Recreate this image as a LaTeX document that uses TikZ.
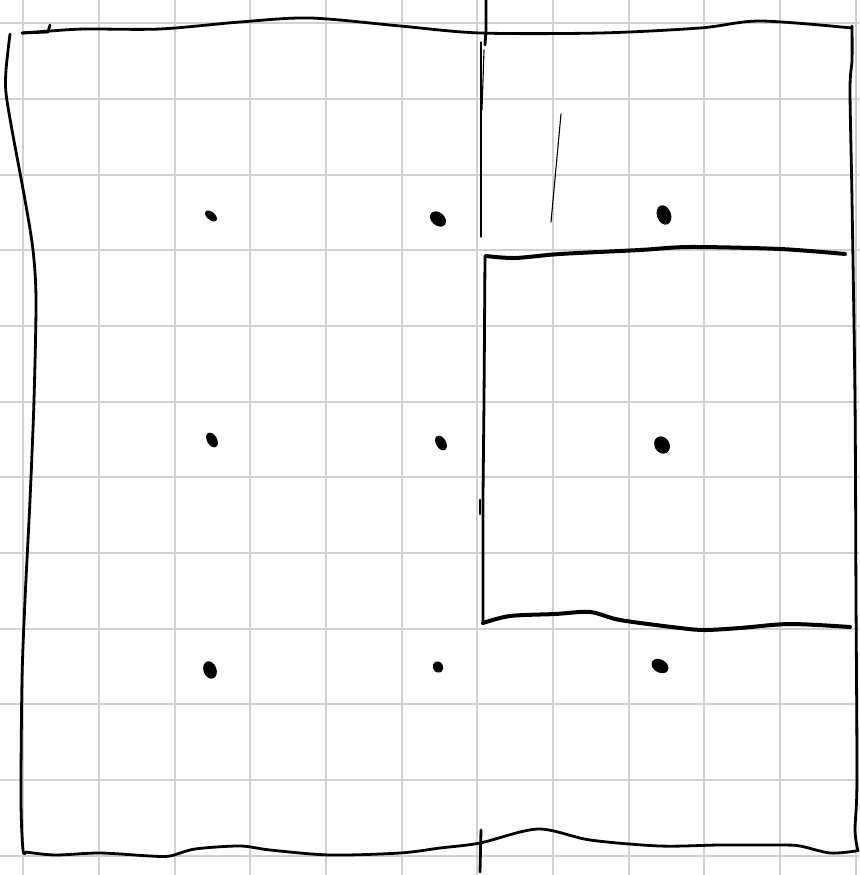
\documentclass[tikz,border=0pt]{standalone}
\begin{document}
\begin{tikzpicture}[x=1pt,y=-1pt,
  gridline/.style={draw=black!18, line width=2pt},
  pen/.style={draw=black, line width=2.8pt, line cap=round, line join=round},
  thickpen/.style={draw=black, line width=4pt, line cap=round, line join=round},
  thinpen/.style={draw=black, line width=1.1pt, line cap=round},
  blob/.style={fill=black}]
\useasboundingbox (0,0) rectangle (859,875);
\fill[white] (0,0) rectangle (859,875);
% grid
\foreach \k in {0,...,11}{
  \draw[gridline] ({23.3+75.67*\k},0) -- ({23.3+75.67*\k},875);
  \draw[gridline] (0,{23.3+75.67*\k}) -- (859,{23.3+75.67*\k});
}
% outer frame
\draw[pen] plot[smooth,tension=0.5] coordinates {(22,33) (50,31) (85,29) (160,29) (240,22) (310,18) (400,26) (480,33) (600,33) (700,28) (760,21) (852,28)};
\draw[pen] (22,33) -- (48,32) -- (50,25);
\draw[pen] plot[smooth,tension=0.5] coordinates {(10,34) (6,70) (6,93) (12,130) (25,200) (33,250) (36,300) (34,400) (30,500) (25,600) (22,680) (21,800) (23,850) (26,852)};
\draw[pen] plot[smooth,tension=0.5] coordinates {(26,852) (55,855) (100,853) (150,856) (170,856) (195,849) (240,846) (270,850) (330,855) (400,853) (440,848) (480,843) (538,829) (590,840) (660,846) (720,845) (780,845) (800,846) (830,853) (856,851)};
\draw[pen] plot[smooth,tension=0.5] coordinates {(852,26) (852,60) (850,90) (852,200) (855,400) (856,600) (857,780) (855,830) (858,851)};
% middle divider strokes
\draw[pen] (486,0) -- (486,30) -- (485,45);
\draw[thinpen] (481,42) -- (481,237);
\draw[thinpen] (484,50) -- (482,110);
\draw[thinpen] (561,114) -- (551,222);
\draw[pen] (481,830) -- (480,872);
% inner box
\draw[thickpen] plot[smooth,tension=0.5] coordinates {(845,254) (780,249) (690,247) (640,250) (560,254) (515,258) (486,256)};
\draw[pen] plot[smooth,tension=0.3] coordinates {(485,256) (484,400) (483,500) (483,623)};
\draw[pen] (480,500) -- (480,514);
\draw[thickpen] plot[smooth,tension=0.5] coordinates {(483,623) (510,616) (555,614) (590,612) (620,620) (680,628) (705,630) (740,628) (790,624) (850,627)};
% dots
\fill[blob] (211,216) ellipse[x radius=7pt, y radius=4pt, rotate=-40];
\fill[blob] (438,219) ellipse[x radius=9pt, y radius=6.5pt, rotate=-40];
\fill[blob] (664,215) ellipse[x radius=10pt, y radius=7pt, rotate=-70];
\fill[blob] (212,440) ellipse[x radius=8pt, y radius=5pt, rotate=-60];
\fill[blob] (441,443) ellipse[x radius=8pt, y radius=5pt, rotate=-60];
\fill[blob] (662,445) ellipse[x radius=9pt, y radius=7.5pt, rotate=-60];
\fill[blob] (210,670) ellipse[x radius=9pt, y radius=6.5pt, rotate=-70];
\fill[blob] (438,667) ellipse[x radius=6pt, y radius=5pt, rotate=-60];
\fill[blob] (660,666) ellipse[x radius=9pt, y radius=6.5pt, rotate=-30];
\end{tikzpicture}
\end{document}
